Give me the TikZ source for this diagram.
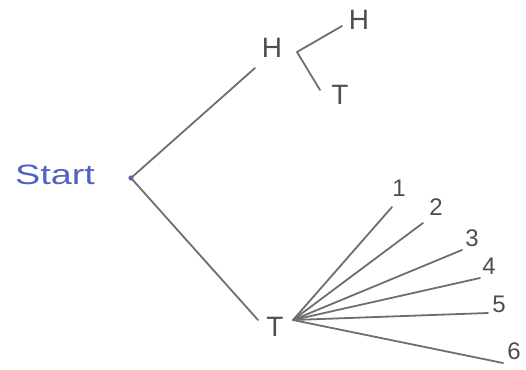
\documentclass[tikz,border=0pt]{standalone}
\usepackage{fontspec}
\setmainfont{Liberation Sans}
\usepackage{xcolor}
\usetikzlibrary{positioning}
\definecolor{pencil}{HTML}{6E6E6E}
\definecolor{lead}{HTML}{4E4E4E}
\definecolor{inkblue}{HTML}{5262C4}
\tikzset{
  stroke/.style={draw=pencil, line width=1.8pt, line cap=round},
  coin/.style={text=lead, font=\fontsize{28}{30}\selectfont, inner sep=0pt},
  digit/.style={text=lead, font=\fontsize{24}{26}\selectfont, inner sep=0pt},
}

\begin{document}
\begin{tikzpicture}[x=1pt, y=-1pt]

    \useasboundingbox (0,0) rectangle (526,369);

    % Start label and root point
    \node[text=inkblue, font=\fontsize{28}{30}\selectfont, xscale=1.35] (start) at (55,175) {Start};
    \coordinate (root) at (131,178);
    \fill[inkblue] (root) circle (2.6pt);

    % First toss: H on top, T below
    \node[coin] (h1) at (272,48) {H};
    \node[coin] (t1) at (275,327) {T};
    \coordinate (h1end) at (255,68);
    \coordinate (t1end) at (258,320);
    \draw[stroke] (root) -- (h1end);
    \draw[stroke] (root) -- (t1end);

    % Second toss after H
    \coordinate (split) at (297,52);
    \coordinate (hhend) at (342,26);
    \coordinate (htend) at (320,90);
    \node[coin] (h2) at (359,20) {H};
    \node[coin] (t2) at (340,95) {T};
    \draw[stroke] (split) -- (hhend);
    \draw[stroke] (split) -- (htend);

    % Die roll after T
    \coordinate (fan) at (293,320);
    \foreach \k/\ex/\ey/\lx/\ly in {1/392/207/399/188, 2/423/223/436/207, 3/462/250/472/238,
                                    4/480/278/489/266, 5/488/313/499/304, 6/503/363/514/351} {
        \coordinate (e\k) at (\ex,\ey);
        \node[digit] (n\k) at (\lx,\ly) {\k};
        \draw[stroke] (fan) -- (e\k);
    }

\end{tikzpicture}
\end{document}
